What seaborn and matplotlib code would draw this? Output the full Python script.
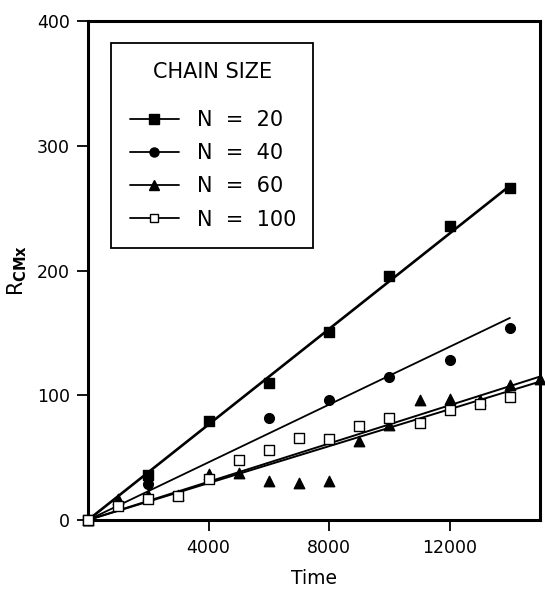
import numpy as np
import pandas as pd
import matplotlib
matplotlib.use("Agg")
import matplotlib.pyplot as plt
from matplotlib.lines import Line2D
import seaborn as sns

# ---- data ----
series_names = ["N  =  20", "N  =  40", "N  =  60", "N  =  100"]

t20 = [0, 2000, 4000, 6000, 8000, 10000, 12000, 14000]
r20 = [0, 36, 79, 110, 151, 196, 236, 266]

t40 = [0, 2000, 6000, 8000, 10000, 12000, 14000]
r40 = [0, 29, 82, 96, 115, 128, 154]

t60 = [0, 1000, 2000, 3000, 4000, 5000, 6000, 7000, 8000, 9000, 10000,
       11000, 12000, 13000, 14000, 15000]
r60 = [0, 17, 20, 20, 37, 38, 31, 30, 31, 63, 76, 96, 97, 96, 108, 113]

t100 = [0, 1000, 2000, 3000, 4000, 5000, 6000, 7000, 8000, 9000, 10000,
        11000, 12000, 13000, 14000]
r100 = [0, 11, 17, 19, 33, 48, 56, 66, 65, 75, 82, 78, 88, 93, 99]

# fitted straight lines (end points)
fit_t20, fit_r20 = [0, 14000], [0, 268]
fit_t40, fit_r40 = [0, 14000], [0, 162]
fit_t60, fit_r60 = [0, 15000], [0, 115]
fit_t100, fit_r100 = [0, 15000], [0, 111]

x_ticks = [4000, 8000, 12000]
y_ticks = [0, 100, 200, 300, 400]
legend_title = "CHAIN SIZE"
x_label = "Time"
y_label = r"R$_{\mathbf{CMx}}$"

# ---- plotting ----
sns.set_theme(style="ticks")
plt.rcParams["font.family"] = ["DejaVu Sans"]
for key in ["text.color", "axes.labelcolor", "xtick.color", "ytick.color",
            "axes.edgecolor"]:
    plt.rcParams[key] = "black"

fig = plt.figure(figsize=(5.45, 5.89), dpi=100)
ax = fig.add_axes([0.1615, 0.1171, 0.8294, 0.8472])

series = [
    (t20, r20, fit_t20, fit_r20, "s", "black", 7.5, 1.9),
    (t40, r40, fit_t40, fit_r40, "o", "black", 7.0, 1.3),
    (t60, r60, fit_t60, fit_r60, "^", "black", 7.5, 1.4),
    (t100, r100, fit_t100, fit_r100, "s", "white", 6.5, 1.4),
]

handles = []
for name, (tx, ry, ft, fr, mk, fc, ms, lw) in zip(series_names, series):
    fit_df = pd.DataFrame({"Time": ft, "R": fr})
    sns.lineplot(data=fit_df, x="Time", y="R", ax=ax, color="black",
                 linewidth=lw, zorder=2, clip_on=False)
    pts = pd.DataFrame({"Time": tx, "R": ry})
    sns.scatterplot(data=pts, x="Time", y="R", ax=ax, marker=mk,
                    s=ms ** 2, color=fc, edgecolor="black", linewidth=1.0,
                    zorder=3, clip_on=False)
    handles.append(Line2D([0], [0], color="black", linewidth=1.3, marker=mk,
                          markersize=ms - 0.5, markerfacecolor=fc,
                          markeredgecolor="black", label=name))

ax.set_xlim(0, 15000)
ax.set_ylim(0, 400)
ax.set_xticks(x_ticks)
ax.set_xticklabels([str(v) for v in x_ticks])
ax.set_yticks(y_ticks)
ax.set_yticklabels([str(v) for v in y_ticks])

for side in ["left", "right", "top", "bottom"]:
    ax.spines[side].set_visible(True)
    ax.spines[side].set_linewidth(2.2)
    ax.spines[side].set_color("black")

ax.tick_params(axis="both", direction="out", length=8, width=1.3,
               labelsize=12.5, colors="black", pad=5)
ax.tick_params(axis="x", pad=6)

ax.set_xlabel(x_label, fontsize=13.5, labelpad=8)
ax.set_ylabel(y_label, fontsize=15, labelpad=6)

leg = ax.legend(handles=handles, title=legend_title, loc="upper left",
                bbox_to_anchor=(0.051, 0.549, 0.447, 0.407), mode="expand",
                frameon=True, fancybox=False,
                edgecolor="black", fontsize=15, title_fontsize=15,
                handlelength=2.35, handletextpad=0.86, labelspacing=0.63,
                borderpad=0.9, borderaxespad=0.0, framealpha=1)
leg.get_frame().set_linewidth(1.3)
leg._legend_box.sep = 20.5
for txt in leg.get_texts():
    txt.set_color("black")
leg.get_title().set_color("black")

fig.savefig("out.png", dpi=100)
